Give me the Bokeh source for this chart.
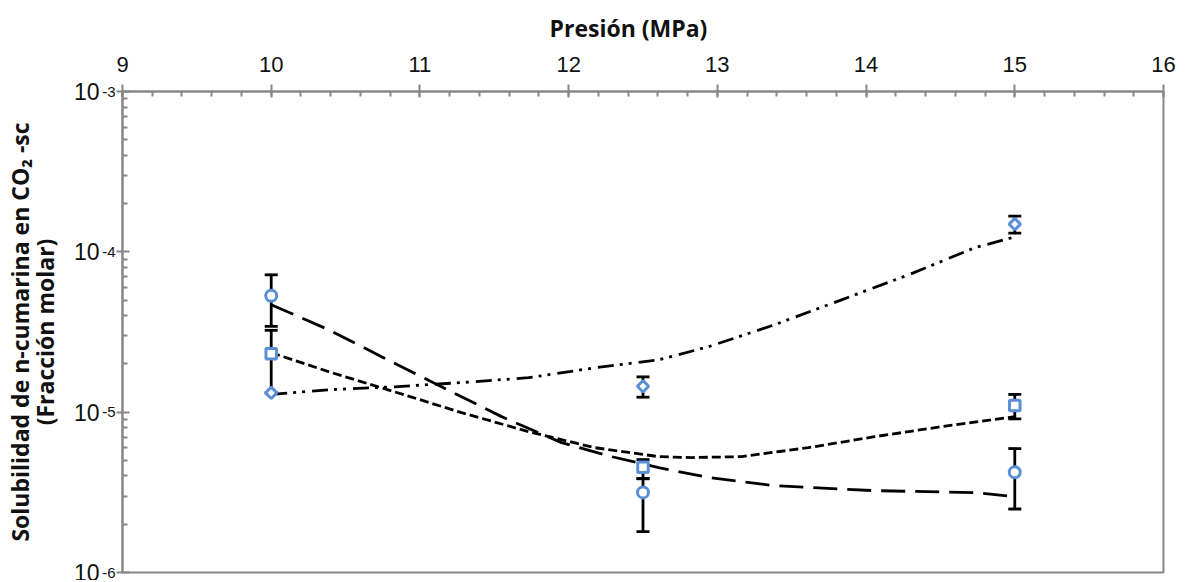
import math
from bokeh.plotting import figure
from bokeh.models import (ColumnDataSource, Whisker, TeeHead, FixedTicker, Range1d,
                          CustomJSTickFormatter, LogAxis, Title)
from bokeh.embed import file_html
from bokeh.resources import INLINE

# ---- data ----
pressure = [10, 12.5, 15]
circ_y = [5.32e-5, 3.16e-6, 4.22e-6]
circ_up = [7.19e-5, 3.86e-6, 5.93e-6]
circ_lo = [3.43e-5, 1.80e-6, 2.49e-6]

sq_y = [2.31e-5, 4.53e-6, 1.10e-5]
sq_up = [3.24e-5, 5.06e-6, 1.29e-5]
sq_lo = [1.32e-5, 3.84e-6, 9.08e-6]

dia_y = [1.32e-5, 1.45e-5, 1.49e-4]
dia_err_x = [12.5, 15]
dia_up = [1.66e-5, 1.67e-4]
dia_lo = [1.24e-5, 1.31e-4]

fitA_x = [10.0, 10.385, 10.742, 11.145, 11.549, 11.952, 12.289, 12.605, 12.941, 13.385, 14.057, 14.730, 15.0]
fitA_y = [4.68e-5, 3.27e-5, 2.22e-5, 1.44e-5, 9.38e-6, 6.46e-6, 5.28e-6, 4.51e-6, 3.91e-6, 3.48e-6, 3.24e-6, 3.15e-6, 2.97e-6]
fitB_x = [10.0, 10.385, 10.829, 11.280, 11.730, 12.174, 12.605, 12.827, 13.163, 13.613, 14.057, 14.508, 15.0]
fitB_y = [2.35e-5, 1.79e-5, 1.34e-5, 9.93e-6, 7.56e-6, 6.01e-6, 5.28e-6, 5.21e-6, 5.28e-6, 6.01e-6, 7.03e-6, 8.12e-6, 9.38e-6]
fitC_x = [10.0, 10.385, 10.829, 11.280, 11.730, 12.174, 12.605, 12.941, 13.385, 13.835, 14.286, 14.730, 15.0]
fitC_y = [1.29e-5, 1.38e-5, 1.44e-5, 1.53e-5, 1.64e-5, 1.89e-5, 2.12e-5, 2.56e-5, 3.51e-5, 5.02e-5, 7.19e-5, 1.06e-4, 1.24e-4]

x_ticks = [9, 10, 11, 12, 13, 14, 15, 16]
y_ticks = [1e-6, 1e-5, 1e-4, 1e-3]
y_exps = ["-6", "-5", "-4", "-3"]
y_base = "10"

x_title = "Presión (MPa)"
y_title1 = "Solubilidad de n-cumarina en CO\u2082 -sc"
y_title2 = "(Fracción molar)"

# ---- styling ----
BLUE = "#5A8FD8"
GRAY = "#888888"
TXT = "#111111"

p = figure(frame_width=1041, frame_height=481,
           x_range=Range1d(9, 16), y_range=Range1d(1e-6, 1e-3),
           y_axis_type="log", x_axis_location="above",
           output_backend="svg", toolbar_location=None,
           min_border_left=120, min_border_right=16,
           min_border_top=91, min_border_bottom=8)
p.grid.visible = False
p.outline_line_color = GRAY
p.outline_line_width = 2
p.background_fill_color = "white"
p.border_fill_color = "white"

xa = p.xaxis[0]
xa.ticker = FixedTicker(ticks=x_ticks, minor_ticks=[9 + 0.2 * i for i in range(36)])
xa.major_label_text_font = "Liberation Sans"
xa.major_label_text_font_size = "22px"
xa.major_label_text_color = TXT
xa.major_label_standoff = 13
xa.axis_line_color = GRAY
xa.axis_line_width = 2
xa.major_tick_line_color = GRAY
xa.major_tick_line_width = 2
xa.minor_tick_line_color = GRAY
xa.minor_tick_line_width = 2
xa.major_tick_in = 6
xa.major_tick_out = 7
xa.minor_tick_in = 5
xa.minor_tick_out = 0

y_minor = [m * 10.0 ** d for d in range(-6, -3) for m in range(2, 10)]
fmt_code = """
const i = ytk.findIndex(t => Math.abs(Math.log10(t) - Math.log10(tick)) < 1e-6);
return i >= 0 ? labs[i] : '';
"""

# inner y axis: ticks + exponents (superscripts)
ya = p.yaxis[0]
ya.ticker = FixedTicker(ticks=y_ticks, minor_ticks=y_minor)
ya.formatter = CustomJSTickFormatter(args=dict(ytk=y_ticks, labs=y_exps), code=fmt_code)
ya.major_label_text_font = "Liberation Sans"
ya.major_label_text_font_size = "15px"
ya.major_label_text_color = TXT
ya.major_label_text_baseline = "bottom"
ya.major_label_standoff = 1
ya.axis_line_color = GRAY
ya.axis_line_width = 2
ya.major_tick_line_color = GRAY
ya.major_tick_line_width = 2
ya.minor_tick_line_color = GRAY
ya.minor_tick_line_width = 2
ya.major_tick_in = 7
ya.major_tick_out = 6
ya.minor_tick_in = 5
ya.minor_tick_out = 0

# outer y axis: the "10" bases, carrying the two-line axis title
yb = LogAxis(ticker=FixedTicker(ticks=y_ticks),
             formatter=CustomJSTickFormatter(args=dict(basetxt=y_base), code="return basetxt;"))
yb.major_label_text_font = "Liberation Sans"
yb.major_label_text_font_size = "23px"
yb.major_label_text_color = TXT
yb.major_label_standoff = 0
yb.axis_line_color = None
yb.major_tick_line_color = None
yb.minor_tick_line_color = None
yb.major_tick_in = 0
yb.major_tick_out = 0
yb.minor_tick_out = 0
yb.axis_label = y_title1 + "\n" + y_title2
yb.axis_label_text_align = "center"
yb.axis_label_text_line_height = 0.78
yb.axis_label_standoff = 10
yb.axis_label_text_font = "Open Sans"
yb.axis_label_text_font_style = "bold"
yb.axis_label_text_font_size = "23px"
yb.axis_label_text_color = TXT
p.add_layout(yb, "left")

p.add_layout(Title(text=x_title, align="left", offset=427, vertical_align="top", standoff=16,
                   text_font="Open Sans", text_font_style="bold", text_font_size="23px",
                   text_color=TXT), "above")

# fit curves
p.line(fitA_x, fitA_y, line_color="black", line_width=2.8, line_dash="24 10")
p.line(fitB_x, fitB_y, line_color="black", line_width=2.8, line_dash="9 4")
p.line(fitC_x, fitC_y, line_color="black", line_width=2.8, line_dash="16 6 3 6 3 7")

# error bars
for xs, up, lo in [(pressure, circ_up, circ_lo), (pressure, sq_up, sq_lo), (dia_err_x, dia_up, dia_lo)]:
    src = ColumnDataSource(dict(x=xs, upper=up, lower=lo))
    w = Whisker(source=src, base="x", upper="upper", lower="lower", dimension="height",
                line_color="black", line_width=2.8, level="underlay",
                upper_head=TeeHead(size=13, line_width=2.8, line_color="black"),
                lower_head=TeeHead(size=13, line_width=2.8, line_color="black"))
    p.add_layout(w)

# markers
p.scatter(pressure, circ_y, marker="circle", size=11, line_color=BLUE, line_width=3, fill_color="white")
p.scatter(pressure, sq_y, marker="square", size=10.5, line_color=BLUE, line_width=3, fill_color="white")
p.scatter(pressure, dia_y, marker="square", angle=math.pi / 4, size=8, line_color=BLUE, line_width=3, fill_color="white")

open("out.html", "w").write(file_html(p, INLINE))
